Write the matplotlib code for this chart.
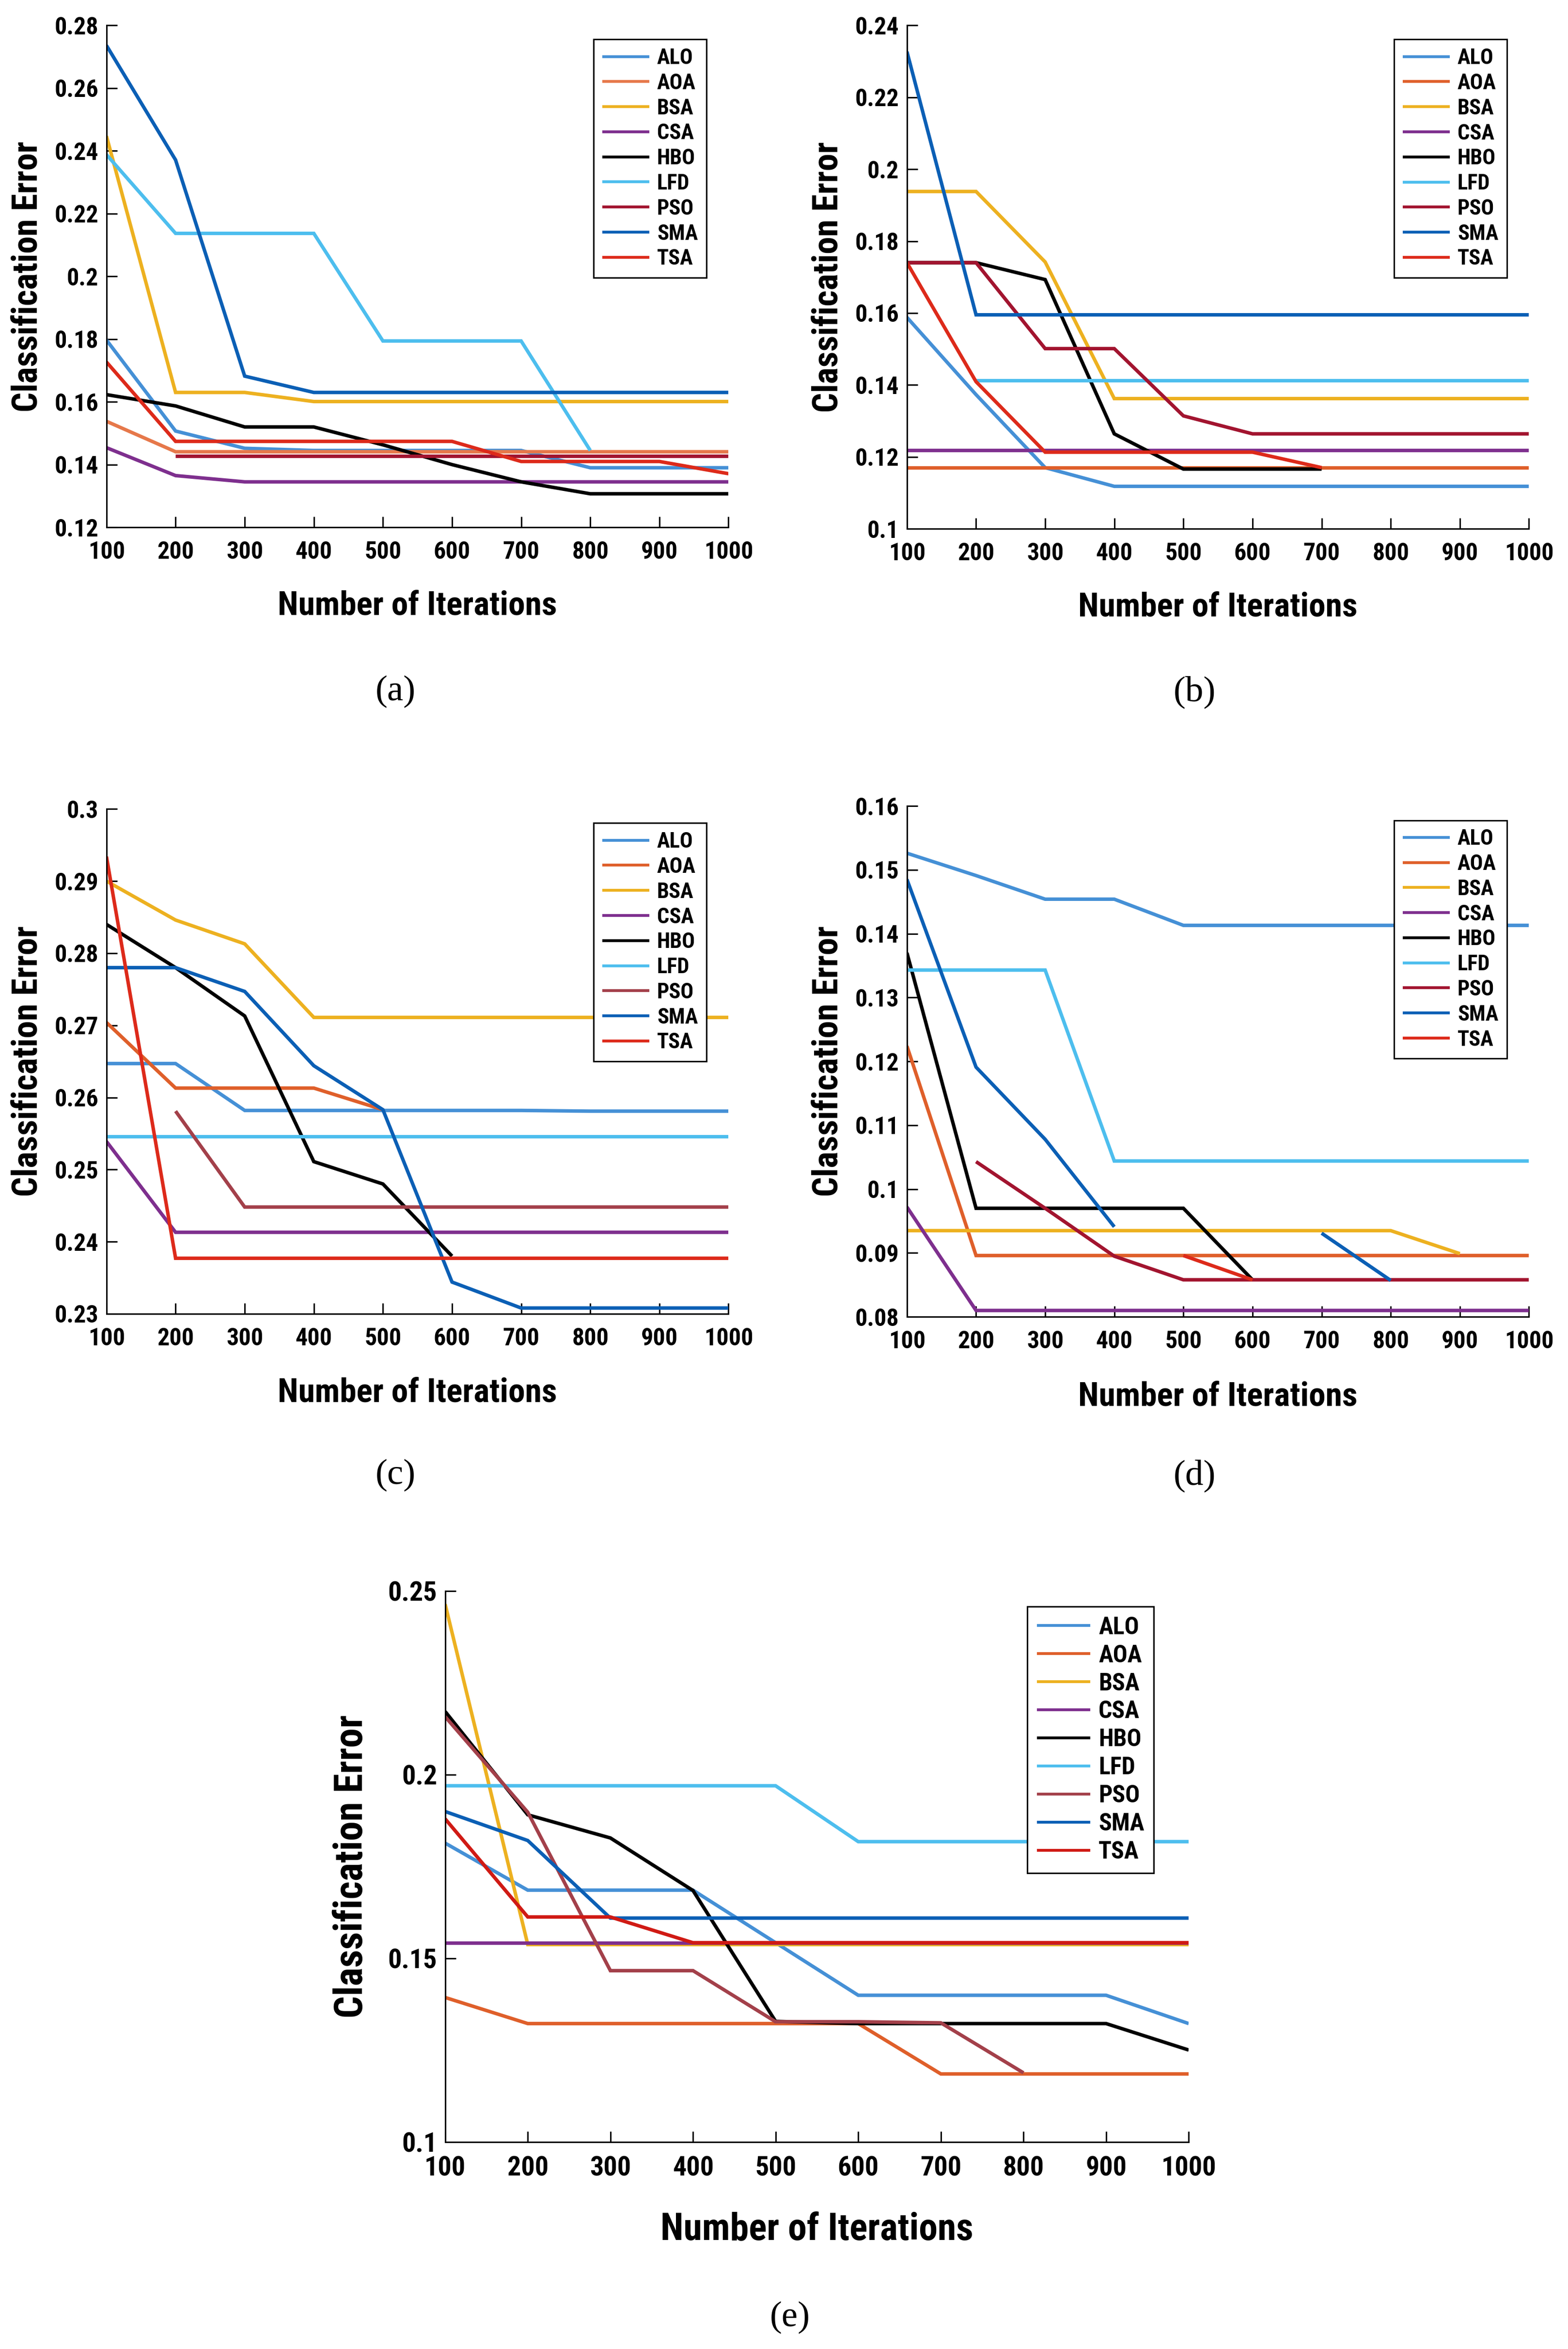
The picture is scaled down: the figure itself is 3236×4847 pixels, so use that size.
import numpy as np
import matplotlib
matplotlib.use('Agg')
import matplotlib.pyplot as plt
from matplotlib import font_manager

nan = np.nan
iterations = [100, 200, 300, 400, 500, 600, 700, 800, 900, 1000]
algorithms = ['ALO', 'AOA', 'BSA', 'CSA', 'HBO', 'LFD', 'PSO', 'SMA', 'TSA']

# (a)
a_ALO = [0.1797, 0.1507, 0.1452, 0.1445, 0.1445, 0.1445, 0.1445, 0.1390, 0.1390, 0.1390]
a_AOA = [0.1538, 0.1441, 0.1441, 0.1441, 0.1441, 0.1441, 0.1441, 0.1441, 0.1441, 0.1441]
a_BSA = [0.2447, 0.1630, 0.1630, 0.1601, 0.1601, 0.1601, 0.1601, 0.1601, 0.1601, 0.1601]
a_CSA = [0.1454, 0.1365, 0.1345, 0.1345, 0.1345, 0.1345, 0.1345, 0.1345, 0.1345, 0.1345]
a_HBO = [0.1623, 0.1587, 0.1520, 0.1520, 0.1463, 0.1400, 0.1345, 0.1307, 0.1307, 0.1307]
a_LFD = [0.2388, 0.2137, 0.2137, 0.2137, 0.1794, 0.1794, 0.1794, 0.1445, nan, nan]
a_PSO = [nan, 0.1428, 0.1428, 0.1428, 0.1428, 0.1428, 0.1428, 0.1428, 0.1428, 0.1428]
a_SMA = [0.2736, 0.2371, 0.1682, 0.1630, 0.1630, 0.1630, 0.1630, 0.1630, 0.1630, 0.1630]
a_TSA = [0.1727, 0.1474, 0.1474, 0.1474, 0.1474, 0.1474, 0.1410, 0.1410, 0.1410, 0.1371]

# (b)
b_ALO = [0.1588, 0.1373, 0.1170, 0.1118, 0.1118, 0.1118, 0.1118, 0.1118, 0.1118, 0.1118]
b_AOA = [0.1170, 0.1170, 0.1170, 0.1170, 0.1170, 0.1170, 0.1170, 0.1170, 0.1170, 0.1170]
b_BSA = [0.1938, 0.1938, 0.1742, 0.1362, 0.1362, 0.1362, 0.1362, 0.1362, 0.1362, 0.1362]
b_CSA = [0.1218, 0.1218, 0.1218, 0.1218, 0.1218, 0.1218, 0.1218, 0.1218, 0.1218, 0.1218]
b_HBO = [0.1740, 0.1740, 0.1693, 0.1264, 0.1166, 0.1166, 0.1166, nan, nan, nan]
b_LFD = [nan, 0.1413, 0.1413, 0.1413, 0.1413, 0.1413, 0.1413, 0.1413, 0.1413, 0.1413]
b_PSO = [0.1740, 0.1740, 0.1501, 0.1501, 0.1314, 0.1264, 0.1264, 0.1264, 0.1264, 0.1264]
b_SMA = [0.2327, 0.1595, 0.1595, 0.1595, 0.1595, 0.1595, 0.1595, 0.1595, 0.1595, 0.1595]
b_TSA = [0.1740, 0.1409, 0.1213, 0.1213, 0.1213, 0.1213, 0.1170, nan, nan, nan]

# (c)
c_ALO = [0.2647, 0.2647, 0.2582, 0.2582, 0.2582, 0.2582, 0.2582, 0.2581, 0.2581, 0.2581]
c_AOA = [0.2704, 0.2613, 0.2613, 0.2613, 0.2583, nan, nan, nan, nan, nan]
c_BSA = [0.2900, 0.2846, 0.2813, 0.2711, 0.2711, 0.2711, 0.2711, 0.2711, 0.2711, 0.2711]
c_CSA = [0.2539, 0.2413, 0.2413, 0.2413, 0.2413, 0.2413, 0.2413, 0.2413, 0.2413, 0.2413]
c_HBO = [0.2840, 0.2780, 0.2713, 0.2511, 0.2480, 0.2380, nan, nan, nan, nan]
c_LFD = [0.2546, 0.2546, 0.2546, 0.2546, 0.2546, 0.2546, 0.2546, 0.2546, 0.2546, 0.2546]
c_PSO = [nan, 0.2581, 0.2448, 0.2448, 0.2448, 0.2448, 0.2448, 0.2448, 0.2448, 0.2448]
c_SMA = [0.2780, 0.2780, 0.2747, 0.2644, 0.2583, 0.2344, 0.2308, 0.2308, 0.2308, 0.2308]
c_TSA = [0.2934, 0.2377, 0.2377, 0.2377, 0.2377, 0.2377, 0.2377, 0.2377, 0.2377, 0.2377]

# (d)
d_ALO = [0.1526, 0.1491, 0.1454, 0.1454, 0.1413, 0.1413, 0.1413, 0.1413, 0.1413, 0.1413]
d_AOA = [0.1224, 0.0896, 0.0896, 0.0896, 0.0896, 0.0896, 0.0896, 0.0896, 0.0896, 0.0896]
d_BSA = [0.0935, 0.0935, 0.0935, 0.0935, 0.0935, 0.0935, 0.0935, 0.0935, 0.0899, nan]
d_CSA = [0.0972, 0.0810, 0.0810, 0.0810, 0.0810, 0.0810, 0.0810, 0.0810, 0.0810, 0.0810]
d_HBO = [0.1370, 0.0970, 0.0970, 0.0970, 0.0970, 0.0858, nan, nan, nan, nan]
d_LFD = [0.1343, 0.1343, 0.1343, 0.1044, 0.1044, 0.1044, 0.1044, 0.1044, 0.1044, 0.1044]
d_PSO = [nan, 0.1043, 0.0970, 0.0895, 0.0858, 0.0858, 0.0858, 0.0858, 0.0858, 0.0858]
d_SMA = [0.1485, 0.1191, 0.1078, 0.0941, nan, nan, 0.0931, 0.0857, nan, nan]
d_TSA = [nan, nan, nan, nan, 0.0896, 0.0858, nan, nan, nan, nan]

# (e)
e_ALO = [0.1814, 0.1686, 0.1686, 0.1686, 0.1543, 0.1400, 0.1400, 0.1400, 0.1400, 0.1323]
e_AOA = [0.1394, 0.1323, 0.1323, 0.1323, 0.1323, 0.1323, 0.1186, 0.1186, 0.1186, 0.1186]
e_BSA = [0.2464, 0.1538, 0.1538, 0.1538, 0.1538, 0.1538, 0.1538, 0.1538, 0.1538, 0.1538]
e_CSA = [0.1543, 0.1543, 0.1543, 0.1543, 0.1543, 0.1543, 0.1543, 0.1543, 0.1543, 0.1543]
e_HBO = [0.2172, 0.1891, 0.1828, 0.1685, 0.1329, 0.1323, 0.1323, 0.1323, 0.1323, 0.1251]
e_LFD = [0.1970, 0.1970, 0.1970, 0.1970, 0.1970, 0.1818, 0.1818, 0.1818, 0.1818, 0.1818]
e_PSO = [0.2158, 0.1898, 0.1467, 0.1467, 0.1328, 0.1328, 0.1325, 0.1189, nan, nan]
e_SMA = [0.1900, 0.1821, 0.1610, 0.1610, 0.1610, 0.1610, 0.1610, 0.1610, 0.1610, 0.1610]
e_TSA = [0.1880, 0.1613, 0.1613, 0.1543, 0.1543, 0.1543, 0.1543, 0.1543, 0.1543, 0.1543]

a_yticks = [0.12, 0.14, 0.16, 0.18, 0.20, 0.22, 0.24, 0.26, 0.28]
b_yticks = [0.10, 0.12, 0.14, 0.16, 0.18, 0.20, 0.22, 0.24]
c_yticks = [0.23, 0.24, 0.25, 0.26, 0.27, 0.28, 0.29, 0.30]
d_yticks = [0.08, 0.09, 0.10, 0.11, 0.12, 0.13, 0.14, 0.15, 0.16]
e_yticks = [0.10, 0.15, 0.20, 0.25]

colors = {
    'ALO': '#4590d6', 'AOA': '#df5f2a', 'BSA': '#edb120', 'CSA': '#7e2f8e',
    'HBO': '#000000', 'LFD': '#4dbeee', 'PSO': '#a2142f', 'SMA': '#0b5fb5',
    'TSA': '#dd2a1a',
}
# some panels use slightly different shades in the original
a_colors = {'AOA': '#e6784a'}
c_colors = {'PSO': '#a3404a'}
e_colors = {'PSO': '#a3404a', 'TSA': '#d01a14'}

names = {f.name for f in font_manager.fontManager.ttflist}
narrow = 'DejaVu Sans'
for cand in ['Liberation Sans Narrow', 'DejaVu Sans Condensed', 'Roboto Condensed']:
    if cand in names:
        narrow = cand
        break
serif = 'Liberation Serif' if 'Liberation Serif' in names else 'DejaVu Serif'

fig = plt.figure(figsize=(32.36, 48.47), dpi=100)

panels = [
    ('(a)', [0.0679, 0.7755, 0.3967, 0.2137], [a_ALO, a_AOA, a_BSA, a_CSA, a_HBO, a_LFD, a_PSO, a_SMA, a_TSA], a_yticks, a_colors, (0.2524, 0.7054), 1.0),
    ('(b)', [0.5784, 0.7749, 0.3967, 0.2143], [b_ALO, b_AOA, b_BSA, b_CSA, b_HBO, b_LFD, b_PSO, b_SMA, b_TSA], b_yticks, {}, (0.7620, 0.7054), 1.0),
    ('(c)', [0.0679, 0.4407, 0.3967, 0.2149], [c_ALO, c_AOA, c_BSA, c_CSA, c_HBO, c_LFD, c_PSO, c_SMA, c_TSA], c_yticks, c_colors, (0.2524, 0.3718), 1.0),
    ('(d)', [0.5784, 0.4394, 0.3967, 0.2175], [d_ALO, d_AOA, d_BSA, d_CSA, d_HBO, d_LFD, d_PSO, d_SMA, d_TSA], d_yticks, {}, (0.7620, 0.3718), 1.0),
    ('(e)', [0.2839, 0.0880, 0.4742, 0.2347], [e_ALO, e_AOA, e_BSA, e_CSA, e_HBO, e_LFD, e_PSO, e_SMA, e_TSA], e_yticks, e_colors, (0.5038, 0.0134), 1.12),
]

for caption, rect, series, yticks, over, cap_pos, s in panels:
    ax = fig.add_axes(rect)
    for name, vals in zip(algorithms, series):
        ax.plot(iterations, vals, color=over.get(name, colors[name]), lw=5.2, label=name,
                solid_joinstyle='miter', solid_capstyle='butt')
    ax.set_xlim(100, 1000)
    ax.set_ylim(yticks[0], yticks[-1])
    ax.set_xticks(iterations)
    ax.set_yticks(yticks)
    ax.set_yticklabels(['{:g}'.format(round(t, 2)) for t in yticks])
    for sp in ['top', 'right']:
        ax.spines[sp].set_visible(False)
    for sp in ['left', 'bottom']:
        ax.spines[sp].set_linewidth(2.2)
    ax.tick_params(direction='in', length=16, width=2.2, labelsize=36 * s)
    ax.tick_params(axis='x', pad=20)
    ax.tick_params(axis='y', pad=12)
    for lab in ax.get_xticklabels() + ax.get_yticklabels():
        lab.set_family(narrow)
        lab.set_fontweight('bold')
    ax.set_xlabel('Number of Iterations', family=narrow, fontweight='bold', fontsize=50 * s)
    ax.set_ylabel('Classification Error', family=narrow, fontweight='bold', fontsize=52 * s)
    ax.xaxis.set_label_coords(0.5, -0.125)
    ax.yaxis.set_label_coords(-0.10, 0.5)
    leg = ax.legend(loc='upper left', bbox_to_anchor=(0.783, 0.972), borderaxespad=0,
                    fancybox=False, framealpha=1, edgecolor='black',
                    prop={'family': narrow, 'weight': 'bold', 'size': 32 * s},
                    handlelength=2.2, handletextpad=0.35, labelspacing=0.22,
                    borderpad=0.4)
    leg.get_frame().set_linewidth(2.2)
    for h in leg.get_lines():
        h.set_linewidth(4.2)
    fig.text(cap_pos[0], cap_pos[1], caption, family=serif, fontsize=54,
             ha='center', va='center')

fig.savefig('out.png', dpi=100)
